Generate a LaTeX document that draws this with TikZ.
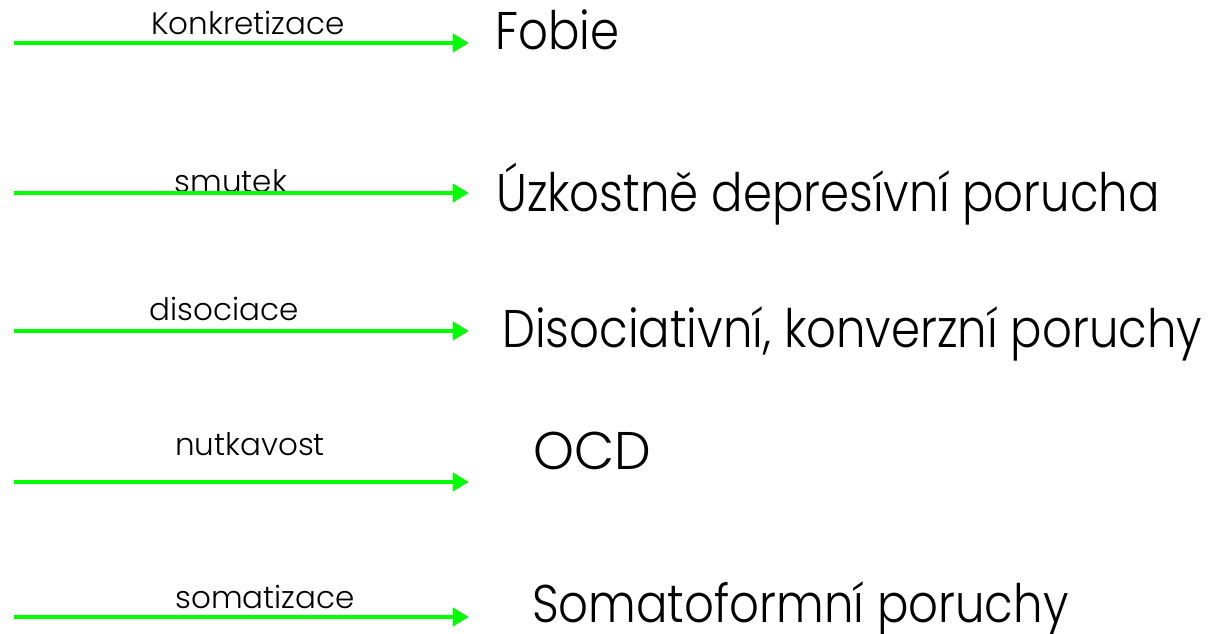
\documentclass[tikz,border=0pt]{standalone}
\usepackage{fontspec}
\setmainfont{Poppins}[UprightFont=* Light]
\usetikzlibrary{arrows.meta}
\newcommand{\narrow}[1]{\scalebox{0.88}[1]{#1}}
\begin{document}
\begin{tikzpicture}[x=1pt,y=-1pt,
  link/.style={draw={rgb,255:red,0;green,255;blue,0}, line width=4.5pt,
    -{Triangle[length=16pt,width=18pt]}},
  cue/.style={anchor=base, inner sep=0pt, font=\fontsize{31}{36}\selectfont},
  disorder/.style={anchor=base west, inner sep=0pt, font=\fontsize{53}{62}\selectfont}]
  \useasboundingbox (0,0) rectangle (1219,634);
  % arrow endpoints
  \foreach \i/\y in {1/43,2/193,3/331,4/482,5/617}{
    \coordinate (s\i) at (14,\y);
    \coordinate (e\i) at (469,\y);
  }
  % labels above the arrows
  \node[cue] (l1) at (248,35) {Konkretizace};
  \node[cue] (l2) at (231,192) {smutek};
  \node[cue] (l3) at (224,320) {disociace};
  \node[cue] (l4) at (250,455) {nutkavost};
  \node[cue] (l5) at (265,608) {somatizace};
  % resulting disorders
  \node[disorder] (d1) at (495,50) {\narrow{Fobie}};
  \node[disorder] (d2) at (496,211) {\narrow{Úzkostně depresívní porucha}};
  \node[disorder] (d3) at (502,347) {\narrow{Disociativní, konverzní poruchy}};
  \node[disorder] (d4) at (533,469) {\scalebox{0.98}[1]{OCD}};
  \node[disorder] (d5) at (532,622) {\narrow{Somatoformní poruchy}};
  % arrows
  \foreach \i in {1,...,5}{
    \draw[link] (s\i) -- (e\i);
  }
\end{tikzpicture}
\end{document}
